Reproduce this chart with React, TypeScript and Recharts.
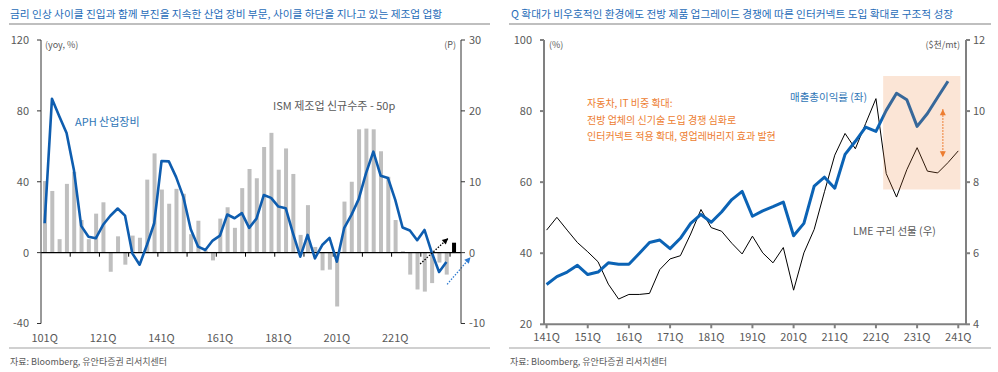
import React from "react";
import {
  ComposedChart,
  Bar,
  Line,
  XAxis,
  YAxis,
  ReferenceLine,
  ReferenceArea,
  Cell,
} from "recharts";

const FONT = '"Noto Sans CJK KR", "Noto Sans", sans-serif';
const GRAY_TEXT = "#595959";
const TITLE_BLUE = "#1F6CB8";

// ---- left panel: APH industrial equipment yoy vs ISM new orders - 50 (2010Q1 ~ 2024Q1)
const leftTickLabels = ["101Q", "121Q", "141Q", "161Q", "181Q", "201Q", "221Q"];
const aphEquip = [
  16.6, 86.8, 77, 67.5, 46.8, 15.1, 9, 8.1, 15.7, 20.8, 24.9, 20.9, -0.4, -6.8,
  4.3, 16.6, 51.7, 51.5, 42.6, 31.3, 13.2, 3.4, 1.5, 6.8, 9.6, 21.5, 19.4, 22.3,
  14, 19.2, 32.5, 30.9, 26, 25.1, 10.9, -2.3, 10, -3.2, 4.3, 8.3, -5.1, 13.8,
  21.3, 30.2, 44.9, 57, 43.4, 42.1, 29.8, 14.2, 12.5, 7, 12.8, 0, -10.9, -5.3,
  null,
];
const ismNewOrders = [
  10.1, 8.7, 1.9, 9.7, 11.4, 4.6, 1.9, 5.5, 7.1, -2.7, 2.3, -1.7, 2.4, 2.1, 10.3,
  14, 8.9, 6.9, 9, 8.3, 2.6, 4.5, 0.3, -1.1, 4.8, 6.4, 3.5, 9.1, 11.8, 10.5,
  14.9, 16.9, 11.7, 14.7, 11.1, 2.5, 6.7, 0.8, -2.5, -2.4, -7.6, 7.2, 10, 17.4,
  17.5, 17.4, 14.3, 10.7, 4.6, 0.2, -3.1, -5.2, -5.5, -4.3, -1.4, -3.1, 1.4,
];

// ---- right panel: gross margin (left axis) vs LME copper futures (right axis), 2014Q1 ~ 2024Q1
const rightTickLabels = [
  "141Q", "151Q", "161Q", "171Q", "181Q", "191Q", "201Q", "211Q", "221Q", "231Q", "241Q",
];
const grossMargin = [
  31.2, 33.4, 34.7, 36.6, 34.0, 34.7, 37.3, 36.9, 36.9, 39.9, 43.0, 43.7, 41.3,
  44.2, 48.4, 50.9, 48.7, 51.6, 55.1, 57.4, 50.4, 51.9, 53.1, 54.4, 44.9, 48.4,
  58.9, 61.4, 58.3, 67.8, 71.5, 75.5, 74.3, 80.2, 85.0, 83.2, 75.7, 79.3, 83.9,
  88.4, null,
];
const lmeCopper = [
  6.65, 7.01, 6.65, 6.3, 6.04, 5.76, 5.13, 4.71, 4.84, 4.84, 4.87, 5.54, 5.84,
  5.93, 6.54, 7.23, 6.72, 6.62, 6.28, 5.98, 6.48, 6.01, 5.73, 6.16, 4.96, 6.01,
  6.67, 7.73, 8.76, 9.37, 8.94, 9.65, 10.35, 8.24, 7.58, 8.35, 8.97, 8.31, 8.26,
  8.55, 8.88,
];

const leftData = ismNewOrders.map((v, i) => ({ i, ism: v, aph: aphEquip[i] }));
const rightData = lmeCopper.map((v, i) => ({ i, copper: v, margin: grossMargin[i] }));

// dotted arrow drawn between the two segment endpoints given by ReferenceLine
const arrowShape = (color: string, both: boolean) => (p: any) => {
  const { x1, y1, x2, y2 } = p;
  const head = (xa: number, ya: number, xb: number, yb: number) => {
    const a = Math.atan2(yb - ya, xb - xa);
    const L = 6;
    const W = 3;
    const bx = xb - L * Math.cos(a);
    const by = yb - L * Math.sin(a);
    const px = -Math.sin(a) * W;
    const py = Math.cos(a) * W;
    return (
      <polygon
        points={`${xb},${yb} ${bx + px},${by + py} ${bx - px},${by - py}`}
        fill={color}
      />
    );
  };
  return (
    <g>
      <line
        x1={x1}
        y1={y1}
        x2={x2}
        y2={y2}
        stroke={color}
        strokeWidth={1.3}
        strokeDasharray="1.5 1.5"
      />
      {head(x1, y1, x2, y2)}
      {both && head(x2, y2, x1, y1)}
    </g>
  );
};

const zeroTicks = [3.5, 7.5, 11.5, 15.5, 19.5, 23.5, 27.5, 31.5, 35.5, 39.5, 43.5, 47.5, 51.5, 55.5];

function LeftChart() {
  const axisColor = "#333333";
  return (
    <ComposedChart
      width={500}
      height={372}
      data={leftData}
      margin={{ top: 40, right: 9, left: 8, bottom: 23.5 }}
    >
      <XAxis
        dataKey="i"
        type="number"
        domain={[-0.5, 57]}
        ticks={[0, 8, 16, 24, 32, 40, 48]}
        tickFormatter={(v) => leftTickLabels[v / 8]}
        axisLine={false}
        tickLine={false}
        tickSize={0}
        tickMargin={11}
        height={25}
        tick={{ fontSize: 11, fill: GRAY_TEXT }}
        allowDataOverflow
      />
      <YAxis
        yAxisId="left"
        domain={[-40, 120]}
        ticks={[-40, 0, 40, 80, 120]}
        width={33}
        tickSize={4}
        tickMargin={8}
        stroke={axisColor}
        tick={{ fontSize: 11, fill: GRAY_TEXT }}
      />
      <YAxis
        yAxisId="right"
        orientation="right"
        domain={[-10, 30]}
        ticks={[-10, 0, 10, 20, 30]}
        width={30}
        tickSize={4}
        tickMargin={4}
        stroke={axisColor}
        tick={{ fontSize: 11, fill: GRAY_TEXT }}
      />
      <Bar yAxisId="right" dataKey="ism" barSize={4} isAnimationActive={false}>
        {ismNewOrders.map((_, i) => (
          <Cell key={i} fill={i === ismNewOrders.length - 1 ? "#000000" : "#BFBFBF"} />
        ))}
      </Bar>
      <ReferenceLine yAxisId="left" y={0} stroke="#000000" strokeWidth={1.3} />
      {zeroTicks.map((x) => (
        <ReferenceLine
          key={x}
          yAxisId="left"
          segment={[
            { x, y: 0 },
            { x, y: -2.3 },
          ]}
          stroke="#000000"
          strokeWidth={1}
        />
      ))}
      <Line
        yAxisId="left"
        type="linear"
        dataKey="aph"
        stroke="#0E5DAF"
        strokeWidth={2.6}
        strokeLinejoin="round"
        dot={false}
        isAnimationActive={false}
      />
      <ReferenceLine
        yAxisId="left"
        ifOverflow="visible"
        segment={[
          { x: 51.4, y: -6.4 },
          { x: 55.25, y: 8.1 },
        ]}
        shape={arrowShape("#000000", false)}
      />
      <ReferenceLine
        yAxisId="left"
        ifOverflow="visible"
        segment={[
          { x: 55.1, y: -17.9 },
          { x: 58.3, y: -2.6 },
        ]}
        shape={arrowShape("#2E7AD0", false)}
      />
    </ComposedChart>
  );
}

// shared axes for the right panel; the overlay copy draws no axis ink
function rightAxes(visible: boolean) {
  const axisColor = visible ? "#808080" : "none";
  const tick = visible ? { fontSize: 11, fill: GRAY_TEXT } : { fontSize: 11, fill: "none" };
  return [
    <XAxis
      key="x"
      dataKey="i"
      type="number"
      domain={[-0.25, 40.75]}
      ticks={[0, 4, 8, 12, 16, 20, 24, 28, 32, 36, 40]}
      tickFormatter={(v) => rightTickLabels[v / 4]}
      stroke={axisColor}
      strokeWidth={2}
      tickSize={4}
      tickMargin={5}
      height={25}
      tick={tick}
      allowDataOverflow
    />,
    <YAxis
      key="yl"
      yAxisId="left"
      domain={[20, 100]}
      ticks={[20, 40, 60, 80, 100]}
      width={36}
      tickSize={4}
      tickMargin={8}
      stroke={axisColor}
      strokeWidth={2}
      tick={tick}
    />,
    <YAxis
      key="yr"
      yAxisId="right"
      orientation="right"
      domain={[4, 12]}
      ticks={[4, 6, 8, 10, 12]}
      width={27}
      tickSize={4}
      tickMargin={3}
      stroke={axisColor}
      strokeWidth={2}
      tick={tick}
    />,
  ];
}

const rightMargin = { top: 40, right: 5, left: 8, bottom: 22.7 };

function RightChart() {
  return (
    <ComposedChart width={498} height={372} data={rightData} margin={rightMargin}>
      {rightAxes(true)}
      <Line
        yAxisId="right"
        type="linear"
        dataKey="copper"
        stroke="#000000"
        strokeWidth={1}
        dot={false}
        isAnimationActive={false}
      />
      <Line
        yAxisId="left"
        type="linear"
        dataKey="margin"
        stroke="#0B63B5"
        strokeWidth={3}
        strokeLinejoin="round"
        dot={false}
        isAnimationActive={false}
      />
    </ComposedChart>
  );
}

// translucent highlight box sits on top of the lines, as in the source
function RightOverlay() {
  return (
    <ComposedChart width={498} height={372} data={rightData} margin={rightMargin}>
      {rightAxes(false)}
      <Line
        yAxisId="left"
        dataKey="margin"
        stroke="none"
        dot={false}
        activeDot={false}
        isAnimationActive={false}
      />
      <Line
        yAxisId="right"
        dataKey="copper"
        stroke="none"
        dot={false}
        activeDot={false}
        isAnimationActive={false}
      />
      <ReferenceArea
        yAxisId="left"
        x1={32.7}
        x2={40.2}
        y1={57.9}
        y2={89.9}
        fill="#ED7D31"
        fillOpacity={0.2}
        stroke="none"
      />
      <ReferenceLine
        yAxisId="left"
        ifOverflow="visible"
        segment={[
          { x: 38.5, y: 80.5 },
          { x: 38.5, y: 67 },
        ]}
        shape={arrowShape("#ED7D31", true)}
      />
    </ComposedChart>
  );
}

export default function App() {
  return (
    <div
      style={{
        position: "absolute",
        left: 0,
        top: 0,
        width: 998,
        height: 372,
        background: "#ffffff",
        overflow: "hidden",
        fontFamily: FONT,
      }}
    >
      <div style={{ position: "absolute", left: 0, top: 0 }}>
        <LeftChart />
      </div>
      <div style={{ position: "absolute", left: 500, top: 0 }}>
        <RightChart />
      </div>
      <div style={{ position: "absolute", left: 500, top: 0, pointerEvents: "none" }}>
        <RightOverlay />
      </div>
      <svg
        width={998}
        height={372}
        style={{ position: "absolute", left: 0, top: 0, pointerEvents: "none" }}
        fontFamily={FONT}
      >
        {/* titles and rules */}
        <text x={10} y={13.5} fontSize={10.7} fill={TITLE_BLUE} dominantBaseline="central">
          금리 인상 사이클 진입과 함께 부진을 지속한 산업 장비 부문, 사이클 하단을 지나고 있는 제조업 업황
        </text>
        <text x={511} y={13.5} fontSize={10.7} fill={TITLE_BLUE} dominantBaseline="central">
          Q 확대가 비우호적인 환경에도 전방 제품 업그레이드 경쟁에 따른 인터커넥트 도입 확대로 구조적 성장
        </text>
        <line x1={9} y1={24} x2={490} y2={24} stroke="#BFBFBF" strokeWidth={2} />
        <line x1={509} y1={24} x2={991} y2={24} stroke="#BFBFBF" strokeWidth={2} />
        <line x1={9} y1={348} x2={490} y2={348} stroke="#D0D0D0" strokeWidth={2} />
        <line x1={509} y1={348} x2={991} y2={348} stroke="#D0D0D0" strokeWidth={2} />
        <text x={10} y={361} fontSize={9} fill={GRAY_TEXT} dominantBaseline="central">
          자료: Bloomberg, 유안타증권 리서치센터
        </text>
        <text x={510} y={361} fontSize={9} fill={GRAY_TEXT} dominantBaseline="central">
          자료: Bloomberg, 유안타증권 리서치센터
        </text>

        {/* left panel labels */}
        <text x={45} y={44} fontSize={9} fill={GRAY_TEXT} dominantBaseline="central">
          (yoy, %)
        </text>
        <text x={456} y={44} fontSize={9} fill={GRAY_TEXT} textAnchor="end" dominantBaseline="central">
          (P)
        </text>
        <text x={75} y={120.5} fontSize={11} fill="#2E75B6" dominantBaseline="central">
          APH 산업장비
        </text>
        <text x={273} y={105} fontSize={11} fill={GRAY_TEXT} dominantBaseline="central">
          ISM 제조업 신규수주 - 50p
        </text>

        {/* right panel labels */}
        <text x={549} y={44} fontSize={9} fill={GRAY_TEXT} dominantBaseline="central">
          (%)
        </text>
        <text x={960} y={44} fontSize={9} fill={GRAY_TEXT} textAnchor="end" dominantBaseline="central">
          ($천/mt)
        </text>
        <text x={587} y={102.5} fontSize={10} fill="#ED7D31" dominantBaseline="central">
          자동차, IT 비중 확대:
        </text>
        <text x={587} y={119.3} fontSize={10} fill="#ED7D31" dominantBaseline="central">
          전방 업체의 신기술 도입 경쟁 심화로
        </text>
        <text x={587} y={135.5} fontSize={10} fill="#ED7D31" dominantBaseline="central">
          인터커넥트 적용 확대, 영업레버리지 효과 발현
        </text>
        <text x={790} y={96} fontSize={10.5} fill="#2E75B6" dominantBaseline="central">
          매출총이익률 (좌)
        </text>
        <text x={853} y={230} fontSize={10.5} fill={GRAY_TEXT} dominantBaseline="central">
          LME 구리 선물 (우)
        </text>
      </svg>
    </div>
  );
}
